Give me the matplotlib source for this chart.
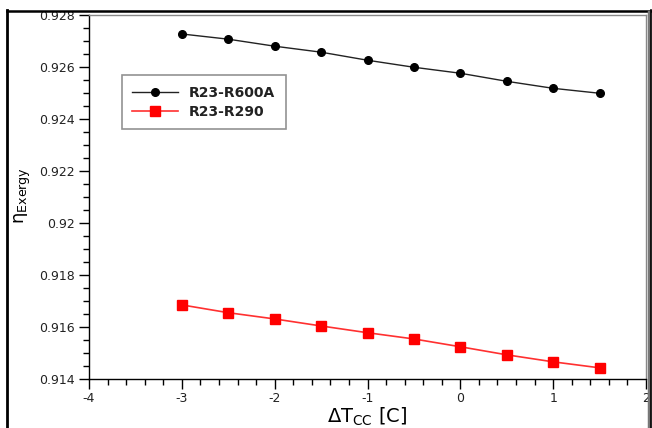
import matplotlib
matplotlib.use("Agg")
import matplotlib.pyplot as plt
from matplotlib.lines import Line2D
from matplotlib.ticker import MultipleLocator, FixedLocator

# Data
dT = [-3.0, -2.5, -2.0, -1.5, -1.0, -0.5, 0.0, 0.5, 1.0, 1.5]
r600a = [0.92727, 0.92707, 0.92680, 0.92657, 0.92626, 0.92599, 0.92576, 0.92545, 0.92518, 0.92499]
r290 = [0.91685, 0.91655, 0.91631, 0.91604, 0.91578, 0.91554, 0.91524, 0.91493, 0.91466, 0.91443]
xticks = [-4, -3, -2, -1, 0, 1, 2]
xticklabels = ["-4", "-3", "-2", "-1", "0", "1", "2"]
yticks = [0.914, 0.916, 0.918, 0.92, 0.922, 0.924, 0.926, 0.928]
yticklabels = ["0.914", "0.916", "0.918", "0.92", "0.922", "0.924", "0.926", "0.928"]

W, H = 652, 428
plt.rcParams['font.family'] = ['DejaVu Sans']
plt.rcParams['mathtext.default'] = 'regular'
fig = plt.figure(figsize=(W / 100, H / 100), dpi=100)

ax = fig.add_axes([89 / W, 1 - 379 / H, (646 - 89) / W, (379 - 15) / H])

ax.plot(dT, r600a, color='#222222', lw=1.0, marker='o', markersize=5.5,
        markerfacecolor='black', markeredgecolor='black', label='R23-R600A')
ax.plot(dT, r290, color='#ff3030', lw=1.2, marker='s', markersize=6.5,
        markerfacecolor='#ff0000', markeredgecolor='#ff0000', label='R23-R290')

ax.set_xlim(-4, 2)
ax.set_ylim(0.914, 0.928)
ax.xaxis.set_major_locator(FixedLocator(xticks))
ax.set_xticklabels(xticklabels)
ax.yaxis.set_major_locator(FixedLocator(yticks))
ax.set_yticklabels(yticklabels)
ax.xaxis.set_minor_locator(MultipleLocator(0.2))
ax.yaxis.set_minor_locator(MultipleLocator(0.0005))

ax.tick_params(axis='both', which='major', direction='out', length=7, width=1,
               labelsize=9, colors='black', labelcolor='#222222')
ax.tick_params(axis='both', which='minor', direction='out', length=4, width=1)
ax.tick_params(axis='x', which='major', pad=2)
ax.tick_params(axis='y', which='major', pad=3)

for s in ['left', 'bottom']:
    ax.spines[s].set_color('black')
    ax.spines[s].set_linewidth(1.0)
for s in ['top', 'right']:
    ax.spines[s].set_color('#888888')
    ax.spines[s].set_linewidth(1.0)

ax.set_xlabel('ΔT$_{CC}$ [C]', fontsize=14)
ax.xaxis.set_label_coords(0.50, -0.072, transform=ax.transAxes)
ax.xaxis.label.set_verticalalignment('top')
ax.set_ylabel('η$_{Exergy}$', fontsize=13)
ax.yaxis.set_label_coords(-0.100, 0.503)

leg = ax.legend(loc='upper left', bbox_to_anchor=(0.059, 0.834), frameon=True,
                fancybox=False, edgecolor='#777777', fontsize=10,
                handlelength=3.3, borderpad=0.75, labelspacing=0.35,
                handletextpad=0.8, borderaxespad=0)
leg.get_frame().set_linewidth(1.2)
for t in leg.get_texts():
    t.set_fontweight('bold')
    t.set_color('#222222')

# outer figure frame
fig.add_artist(Line2D([7 / W, 7 / W], [0, 1 - 10 / H], transform=fig.transFigure, color='black', lw=2))
fig.add_artist(Line2D([7 / W, 651 / W], [1 - 10.5 / H, 1 - 10.5 / H], transform=fig.transFigure, color='black', lw=1.8))
fig.add_artist(Line2D([649 / W, 649 / W], [0, 1 - 12 / H], transform=fig.transFigure, color='#777777', lw=2.5))
fig.add_artist(Line2D([651 / W, 651 / W], [0, 1 - 10 / H], transform=fig.transFigure, color='black', lw=1.2))

# cut-off text at the top
fig.text(0.0, 1 + 8 / H, 'condenser.', fontsize=13, fontweight='bold',
         family='DejaVu Serif', va='center', ha='left', color='black')

fig.savefig('out.png', dpi=100)
